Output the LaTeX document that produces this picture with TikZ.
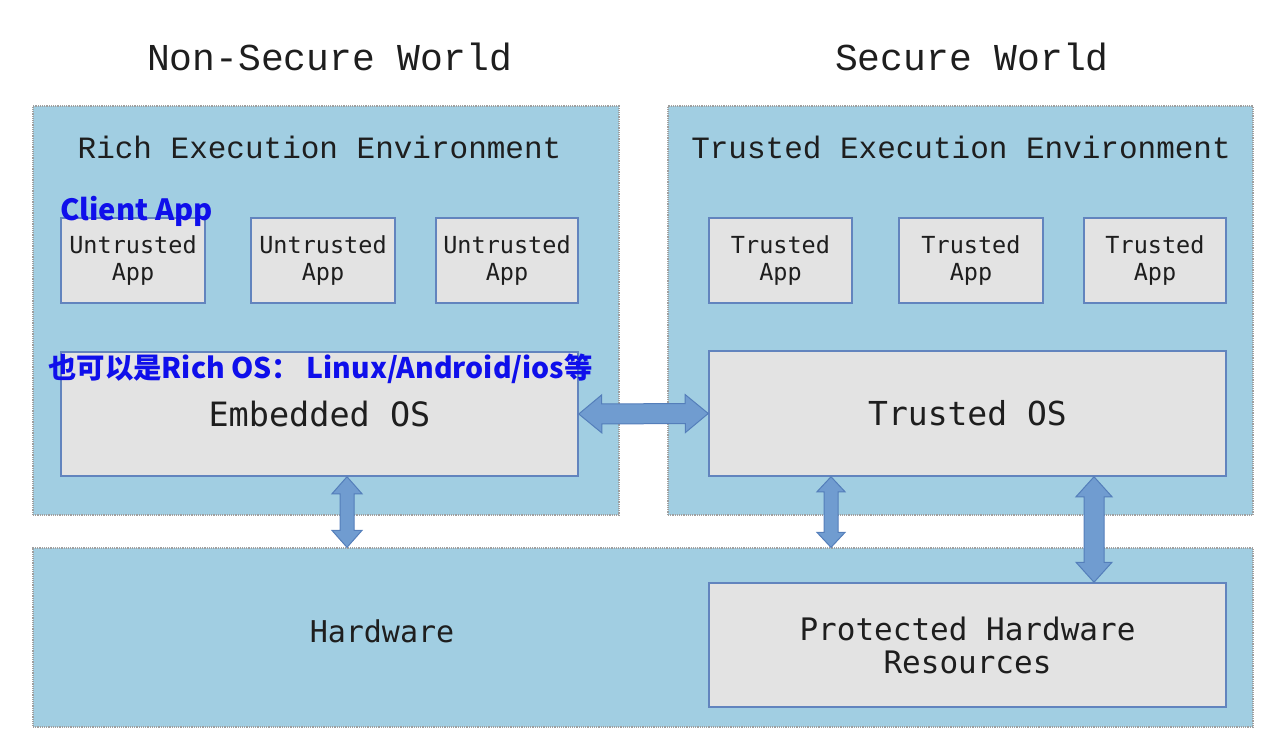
\documentclass[tikz,border=0pt]{standalone}
\usepackage{fontspec}
\usetikzlibrary{calc}

\newfontfamily\headfont{Liberation Mono}
\newfontfamily\boxfont{DejaVu Sans Mono}
\newfontfamily\cjk{Noto Sans CJK SC}

\definecolor{worldblue}{RGB}{161,206,226}
\definecolor{boxgray}{RGB}{227,227,227}
\definecolor{boxedge}{RGB}{98,132,190}
\definecolor{arrowfill}{RGB}{112,156,208}
\definecolor{arrowedge}{RGB}{84,126,186}
\definecolor{notes}{RGB}{15,15,235}
\definecolor{ink}{RGB}{30,30,30}

\tikzset{
  world/.style={draw=gray!75, densely dotted, line width=1.2pt, fill=worldblue, inner sep=0},
  appbox/.style={draw=boxedge, fill=boxgray, line width=1.5pt, inner sep=0, align=center,
    minimum width=144pt, minimum height=85pt, text=ink, font=\boxfont\fontsize{23.5}{27}\selectfont},
  osbox/.style={draw=boxedge, fill=boxgray, line width=1.5pt, inner sep=0, align=center,
    minimum width=517pt, minimum height=124pt, text=ink},
  fatarrow/.style={draw=arrowedge, fill=arrowfill, line width=1pt, line join=miter},
  heading/.style={text=ink, font=\headfont\fontsize{38}{40}\selectfont},
  envlabel/.style={text=ink, font=\headfont\fontsize{31}{33}\selectfont},
  note/.style={text=notes, font=\cjk\bfseries\fontsize{28.4}{32}\selectfont, inner sep=0}
}

% start, end, shaft half width, head half width, head length
\newcommand{\fatarrow}[5]{%
  \path ($(#1)!#5!(#2)$) coordinate (fa) ($(#2)!#5!(#1)$) coordinate (fb);
  \draw[fatarrow] (#1) -- ($(fa)!#4!90:(#2)$) -- ($(fa)!#3!90:(#2)$)
    -- ($(fb)!#3!-90:(#1)$) -- ($(fb)!#4!-90:(#1)$) -- (#2)
    -- ($(fb)!#4!90:(#1)$) -- ($(fb)!#3!90:(#1)$)
    -- ($(fa)!#3!-90:(#2)$) -- ($(fa)!#4!-90:(#2)$) -- cycle;
}

\begin{document}
\begin{tikzpicture}[x=1pt, y=-1pt]
\useasboundingbox (0,0) rectangle (1275,751);

        % ------------------ Worlds ------------------

        \node[heading] (nsw) at (329.5,57) {Non-Secure World};
        \node[heading] (sw) at (972,57) {Secure World};

        \node[world, minimum width=586pt, minimum height=409pt] (ree) at (326,310.5) {};
        \node[world, minimum width=585pt, minimum height=409pt] (tee) at (960.5,310.5) {};
        \node[world, minimum width=1220pt, minimum height=179pt] (hw) at (643,637.5) {};

        \node[envlabel] (reetxt) at (319.5,147) {Rich Execution Environment};
        \node[envlabel] (teetxt) at (961,147) {Trusted Execution Environment};
        \node[envlabel, font=\boxfont\fontsize{30}{32}\selectfont] (hwtxt) at (382,631) {Hardware};

        % ------------------ Apps ------------------

        \node[appbox] (ua1) at (133,260.5) {Untrusted\\App};
        \node[appbox] (ua2) at (323,260.5) {Untrusted\\App};
        \node[appbox, minimum width=142pt] (ua3) at (507,260.5) {Untrusted\\App};

        \node[appbox, minimum width=143pt] (ta1) at (780.5,260.5) {Trusted\\App};
        \node[appbox] (ta2) at (971,260.5) {Trusted\\App};
        \node[appbox, minimum width=142pt] (ta3) at (1155,260.5) {Trusted\\App};

        % ------------------ OS and resources ------------------

        \node[osbox, font=\boxfont\fontsize{33.5}{36}\selectfont] (eos) at (319.5,414) {Embedded OS};
        \node[osbox, minimum height=125pt, font=\boxfont\fontsize{33}{36}\selectfont] (tos) at (967.5,413.5) {Trusted OS};
        \node[osbox, font=\boxfont\fontsize{31}{33}\selectfont] (phr) at (967.5,645) {Protected Hardware\\Resources};

        % ------------------ Arrows ------------------

        \coordinate (xl) at (347,0);
        \coordinate (xm) at (831,0);
        \coordinate (xr) at (1094,0);

        \coordinate (al1) at (eos.south -| xl);
        \coordinate (al2) at (hw.north -| xl);
        \coordinate (am1) at (tos.south -| xm);
        \coordinate (am2) at (hw.north -| xm);
        \coordinate (ar1) at (tos.south -| xr);
        \coordinate (ar2) at (phr.north -| xr);

        \fatarrow{eos.east}{tos.west}{10pt}{19pt}{23pt}
        \fatarrow{al1}{al2}{7pt}{15pt}{17pt}
        \fatarrow{am1}{am2}{7pt}{14pt}{15pt}
        \fatarrow{ar1}{ar2}{10pt}{18pt}{20pt}

        % ------------------ Notes ------------------

        \node[note, anchor=west, font=\cjk\bfseries\fontsize{29.2}{32}\selectfont] (client) at (60,211) {Client App};
        \node[note, anchor=west] (richos) at (48,369) {也可以是Rich OS： Linux/Android/ios等};

\end{tikzpicture}
\end{document}
